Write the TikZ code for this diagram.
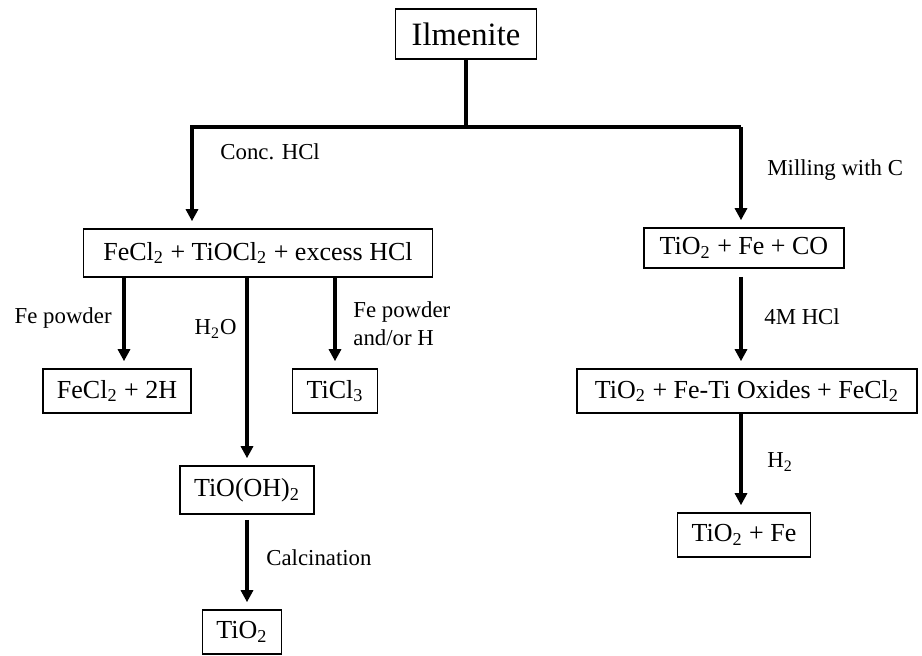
\documentclass[tikz,border=0pt]{standalone}
\usepackage{fontspec}
\setmainfont{Liberation Serif}
\usetikzlibrary{arrows.meta}
\newcommand{\dn}[1]{\textsubscript{#1}}

\tikzset{
  box/.style={draw, line width=0.8pt, inner xsep=7pt, minimum height=22pt,
    font=\fontsize{13}{15}\selectfont},
  lab/.style={font=\fontsize{11.4}{14}\selectfont, inner sep=0pt},
  arr/.style={line width=1.6pt, -{Triangle[width=6pt,length=6pt]}, shorten >=3.5pt},
  ln/.style={line width=1.6pt}
}

\begin{document}
\begin{tikzpicture}[x=0.5pt,y=-0.5pt]
  \useasboundingbox (0,0) rectangle (922,655);
  % top
  \node[box, font=\fontsize{16.3}{18}\selectfont, minimum height=25pt, inner xsep=8pt] (ilm) at (466,34) {Ilmenite};
  \coordinate (lbr) at (192,127);
  \coordinate (rbr) at (741,127);
  % left branch
  \node[box, inner xsep=10pt, minimum height=24pt] (main) at (258,253) {FeCl\dn{2} + TiOCl\dn{2} + excess HCl};
  \node[box] (feh) at (117,391) {FeCl\dn{2} + 2H};
  \node[box] (ticl) at (335,391) {TiCl\dn{3}};
  \node[box, minimum height=24pt] (tiooh) at (247,490) {TiO(OH)\dn{2}};
  \node[box] (tio) at (242,632) {TiO\dn{2}};
  % right branch
  \node[box, minimum height=20pt, inner xsep=8pt] (tfc) at (744,248) {TiO\dn{2} + Fe + CO};
  \node[box, inner xsep=9pt] (oxi) at (747,391) {TiO\dn{2} + Fe-Ti Oxides + FeCl\dn{2}};
  \node[box] (tife) at (744,535) {TiO\dn{2} + Fe};
  % labels
  \node[lab, anchor=west] (conc) at (220,152) {Conc. HCl};
  \node[lab, anchor=west] (mill) at (767,170) {Milling with C};
  \node[lab, anchor=east] (fep) at (112,318) {Fe powder};
  \node[lab, anchor=east] (wat) at (237,329) {H\dn{2}O};
  \node[lab, anchor=west, align=left] (feh2) at (353,324) {Fe powder\\and/or H};
  \node[lab, anchor=west] (hcl) at (764,317) {4M HCl};
  \node[lab, anchor=west] (hyd) at (767,462) {H\dn{2}};
  \node[lab, anchor=west] (calc) at (266,558) {Calcination};
  % connectors
  \draw[ln] (ilm.south) -- (ilm.south |- lbr);
  \draw[arr] (rbr) -- (lbr) -- (lbr |- main.north);
  \draw[arr] (rbr) -- (rbr |- tfc.north);
  \draw[arr] ([xshift=3.5pt]feh.north |- main.south) -- ([xshift=3.5pt]feh.north);
  \draw[arr] (ticl.north |- main.south) -- (ticl.north);
  \draw[arr] (tiooh.north |- main.south) -- (tiooh.north);
  \draw[arr, shorten <=2.5pt] (tiooh.south) -- (tio.north -| tiooh.south);
  \draw[arr, shorten <=4pt] (rbr |- tfc.south) -- (rbr |- oxi.north);
  \draw[arr] (rbr |- oxi.south) -- (rbr |- tife.north);
\end{tikzpicture}
\end{document}
